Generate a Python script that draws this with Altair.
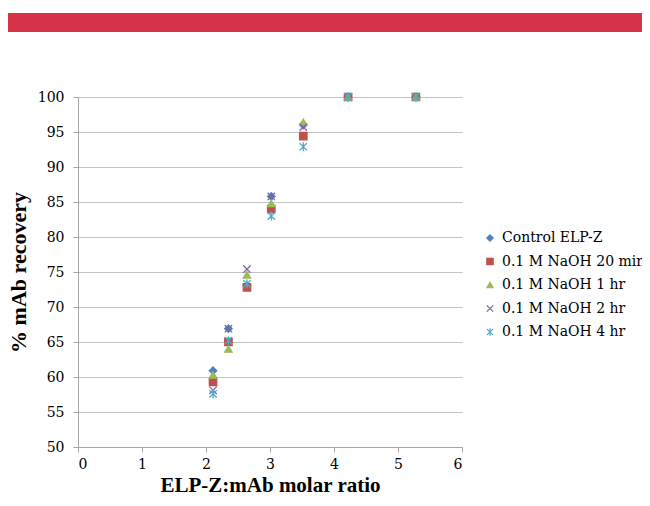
import altair as alt
import pandas as pd

ratios = [2.11, 2.35, 2.64, 3.02, 3.52, 4.22, 5.28]
series = ["Control ELP-Z", "0.1 M NaOH 20 min", "0.1 M NaOH 1 hr", "0.1 M NaOH 2 hr", "0.1 M NaOH 4 hr"]
control = [60.9, 66.9, 73.0, 85.8, 96.0, 100, 100]
naoh_20min = [59.3, 65.0, 72.8, 84.0, 94.4, 100, 100]
naoh_1hr = [60.3, 64.0, 74.6, 84.8, 96.4, 100, 100]
naoh_2hr = [58.1, 66.9, 75.4, 85.8, 95.7, 100, 100]
naoh_4hr = [57.6, 65.2, 73.3, 83.0, 92.9, 100, 100]

colors = ["#4F81BD", "#C0504D", "#9BBB59", "#8064A2", "#4BACC6"]
fills = ["#4F81BD", "#C0504D", "#9BBB59", "transparent", "transparent"]
shapes = ["diamond", "square", "triangle-up",
          "M-1,-1L1,1M-1,1L1,-1",
          "M-1,-1L1,1M-1,1L1,-1M0,-1.2L0,1.2"]

rows = []
for name, vals in zip(series, [control, naoh_20min, naoh_1hr, naoh_2hr, naoh_4hr]):
    for xv, yv in zip(ratios, vals):
        rows.append({"series": name, "ratio": xv, "recovery": yv})
df = pd.DataFrame(rows)

FONT_BOLD = "Liberation Serif"
FONT_REG = "DejaVu Serif"

band = alt.Chart(pd.DataFrame({"a": [0]})).mark_rect(color="#D63349", clip=False).encode(
    x=alt.value(-70), x2=alt.value(564), y=alt.value(-84), y2=alt.value(-65)
)

leg = dict(title=None, orient="none", legendX=405, legendY=134,
           labelFont=FONT_REG, labelFontSize=14, labelColor="#000000",
           symbolSize=40, symbolStrokeWidth=1.2, labelOffset=5,
           rowPadding=9.5, padding=0, labelLimit=300)

points = alt.Chart(df).mark_point(size=55, strokeWidth=1.3, opacity=1).encode(
    x=alt.X("ratio:Q", title="ELP-Z:mAb molar ratio",
            scale=alt.Scale(domain=[0, 6], nice=False),
            axis=alt.Axis(values=[0, 1, 2, 3, 4, 5, 6], grid=False, format="d",
                          tickSize=5, labelPadding=5, titlePadding=3,
                          labelFont=FONT_REG, labelFontSize=14,
                          titleFontSize=21)),
    y=alt.Y("recovery:Q", title="% mAb recovery",
            scale=alt.Scale(domain=[50, 100], nice=False, zero=False),
            axis=alt.Axis(values=list(range(50, 101, 5)), grid=True, format="d",
                          tickSize=5, labelPadding=9, titlePadding=7,
                          labelFont=FONT_REG, labelFontSize=14)),
    stroke=alt.Stroke("series:N", scale=alt.Scale(domain=series, range=colors),
                      legend=alt.Legend(**leg)),
    fill=alt.Fill("series:N", scale=alt.Scale(domain=series, range=fills),
                  legend=alt.Legend(**leg)),
    shape=alt.Shape("series:N", scale=alt.Scale(domain=series, range=shapes),
                    legend=alt.Legend(**leg)),
    order=alt.Order("idx:Q"),
).transform_calculate(
    idx="indexof(['Control ELP-Z','0.1 M NaOH 20 min','0.1 M NaOH 1 hr','0.1 M NaOH 2 hr','0.1 M NaOH 4 hr'], datum.series)"
)

chart = alt.layer(band, points).properties(
    width=384, height=350,
    autosize=alt.AutoSizeParams(type="none"),
    padding={"left": 70, "top": 89, "right": 180, "bottom": 45},
).configure_view(stroke=None).configure_axis(
    labelColor="#000000",
    titleFont=FONT_BOLD, titleFontSize=22, titleFontWeight="bold", titleColor="#000000",
    domainColor="#A6A6A6", tickColor="#A6A6A6", gridColor="#C4C4C4",
    domainWidth=1, tickWidth=1, gridWidth=1,
)

chart.save("out.html", embed_options={"renderer": "svg", "actions": False})
